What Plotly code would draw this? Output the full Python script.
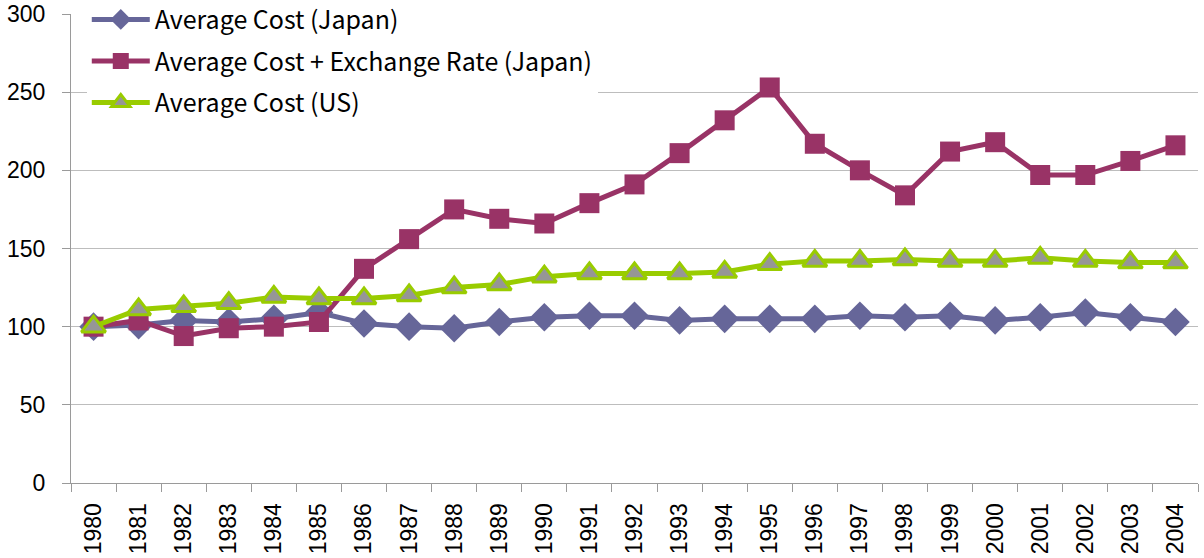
import plotly.graph_objects as go

years = [str(y) for y in range(1980, 2005)]
japan = [100, 101, 104, 103, 105, 109, 102, 100, 99, 103, 106, 107, 107, 104, 105, 105, 105, 107, 106, 107, 104, 106, 109, 106, 103]
japan_fx = [100, 104, 94, 99, 100, 103, 137, 156, 175, 169, 166, 179, 191, 211, 232, 253, 217, 200, 184, 212, 218, 197, 197, 206, 216]
us = [100, 111, 113, 115, 119, 118, 118, 120, 125, 127, 132, 134, 134, 134, 135, 140, 142, 142, 143, 142, 142, 144, 142, 141, 141]
y_ticks = [0, 50, 100, 150, 200, 250, 300]

fig = go.Figure()
fig.add_trace(go.Scatter(x=years, y=japan, name="Average Cost (Japan)", mode="lines+markers",
                         legendgroup="a",
                         line=dict(color="#666699", width=5),
                         marker=dict(symbol="diamond", size=22, color="#666699")))
fig.add_trace(go.Scatter(x=years, y=japan_fx, name="Average Cost + Exchange Rate (Japan)", mode="lines+markers",
                         legendgroup="b",
                         line=dict(color="#993366", width=5),
                         marker=dict(symbol="square", size=20, color="#993366")))
fig.add_trace(go.Scatter(x=years, y=us, name="Average Cost (US)", mode="lines+markers",
                         legendgroup="c",
                         line=dict(color="#99CC00", width=5),
                         marker=dict(symbol="triangle-up", size=21, color="#969696",
                                     line=dict(color="#99CC00", width=3))))

fig.update_layout(
    width=1204, height=558,
    margin=dict(l=71, r=6, t=14, b=75, autoexpand=False),
    plot_bgcolor="white", paper_bgcolor="white",
    showlegend=True,
    legend=dict(x=0.014, y=1.037, xanchor="left", yanchor="top", bgcolor="white",
                font=dict(family="Noto Sans CJK JP", size=25, color="black"),
                itemwidth=58, traceorder="grouped", tracegroupgap=6),
    xaxis=dict(type="category", tickson="boundaries", ticks="outside", ticklen=8,
               tickcolor="#9a9a9a", showline=True, linecolor="#9a9a9a", linewidth=1,
               showgrid=False, tickangle=-90, ticklabelstandoff=10,
               ticklabeloverflow="allow",
               tickfont=dict(family="Liberation Sans", size=23, color="black"),
               range=[-0.5, 24.5]),
    yaxis=dict(range=[0, 300], tickvals=y_ticks, ticks="outside", ticklen=8,
               tickcolor="#9a9a9a", showline=True, linecolor="#9a9a9a", linewidth=1,
               showgrid=True, gridcolor="#bdbdbd", gridwidth=1, zeroline=False,
               ticklabelstandoff=12, ticklabeloverflow="allow",
               tickfont=dict(family="Liberation Sans", size=23, color="black")),
)

fig.write_html("out.html", config={"displayModeBar": False},
               post_script="document.body.style.margin='0';document.body.style.overflow='hidden';")
